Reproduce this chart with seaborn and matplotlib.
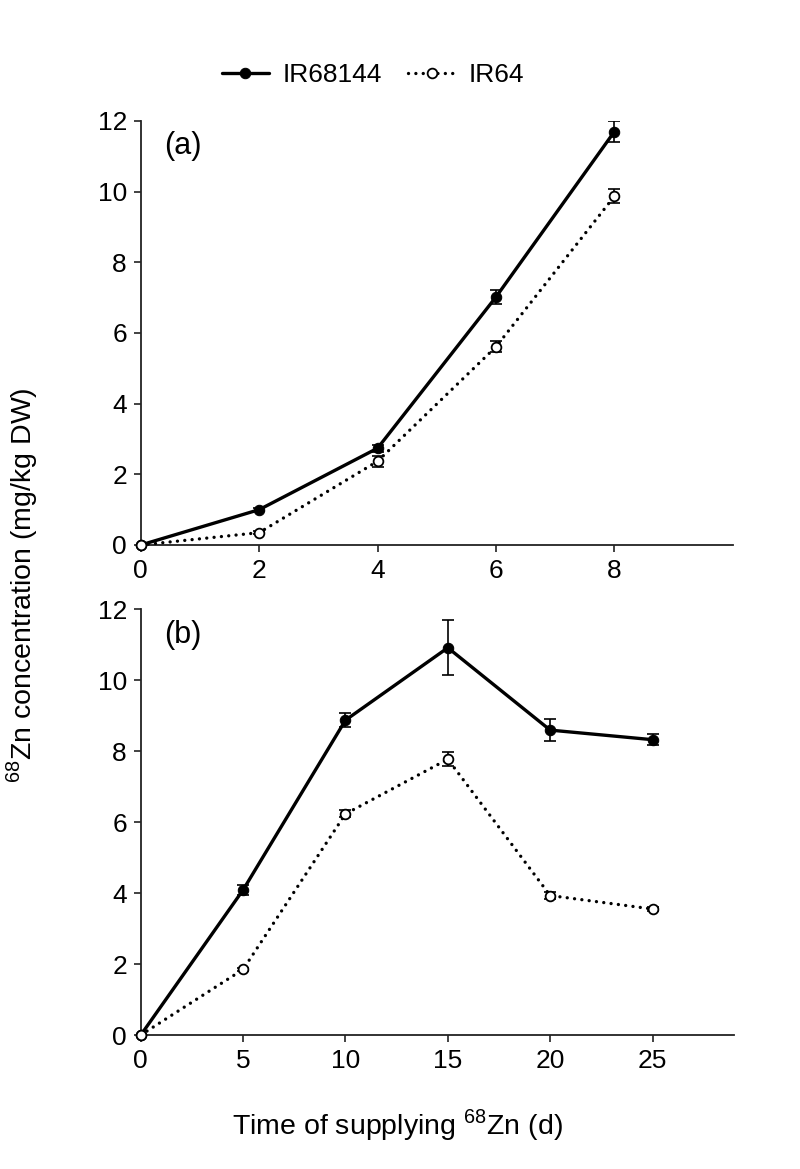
import numpy as np
import pandas as pd
import matplotlib
matplotlib.use('Agg')
import matplotlib.pyplot as plt
import seaborn as sns

# panel (a): days 0-8
days_a = [0, 2, 4, 6, 8]
ir68144_a = [0.0, 1.0, 2.74, 7.02, 11.70]
ir68144_a_err = [0.0, 0.05, 0.10, 0.21, 0.30]
ir64_a = [0.0, 0.35, 2.37, 5.61, 9.87]
ir64_a_err = [0.0, 0.05, 0.16, 0.16, 0.20]

# panel (b): days 0-25
days_b = [0, 5, 10, 15, 20, 25]
ir68144_b = [0.0, 4.09, 8.87, 10.91, 8.59, 8.32]
ir68144_b_err = [0.0, 0.15, 0.20, 0.78, 0.30, 0.15]
ir64_b = [0.0, 1.85, 6.23, 7.77, 3.93, 3.55]
ir64_b_err = [0.0, 0.05, 0.10, 0.20, 0.10, 0.05]

sns.set_style('ticks')
plt.rcParams['font.family'] = ['Liberation Sans', 'DejaVu Sans']
plt.rcParams['mathtext.fontset'] = 'custom'
plt.rcParams['mathtext.rm'] = 'Liberation Sans'
plt.rcParams['text.color'] = 'black'
plt.rcParams['xtick.color'] = 'black'
plt.rcParams['ytick.color'] = 'black'
plt.rcParams['xtick.labelcolor'] = 'black'
plt.rcParams['ytick.labelcolor'] = 'black'

DOT = (0, (0.01, 2.2))


def draw_panel(ax, days, y1, e1, y2, e2, xmax, xticks, tag):
    df = pd.DataFrame({'day': days, 'IR68144': y1, 'IR64': y2})
    ax.errorbar(days, y1, yerr=e1, fmt='none', ecolor='black',
                elinewidth=1.2, capsize=4.5, capthick=1.2, zorder=2)
    ax.errorbar(days, y2, yerr=e2, fmt='none', ecolor='black',
                elinewidth=1.2, capsize=4.5, capthick=1.2, zorder=2)
    sns.lineplot(data=df, x='day', y='IR68144', ax=ax, color='black',
                 lw=2.4, marker='o', markersize=7.5, mfc='black', mec='black',
                 label='IR68144', clip_on=False, zorder=3)
    sns.lineplot(data=df, x='day', y='IR64', ax=ax, color='black',
                 lw=2.4, linestyle=DOT, dash_capstyle='round',
                 marker='o', markersize=7, mfc='white', mec='black', mew=1.3,
                 label='IR64', clip_on=False, zorder=4)
    ax.set_xlim(0, xmax)
    ax.set_ylim(0, 12)
    ax.set_xticks(xticks)
    ax.set_yticks(range(0, 13, 2))
    ax.set_xlabel('')
    ax.set_ylabel('')
    for s in ['top', 'right']:
        ax.spines[s].set_visible(False)
    for s in ['left', 'bottom']:
        ax.spines[s].set_linewidth(1.3)
        ax.spines[s].set_color('#222222')
    ax.tick_params(direction='out', length=5, width=1.2, labelsize=19,
                   color='#222222', labelcolor='black', pad=5)
    ax.text(0.04, 0.94, tag, transform=ax.transAxes, fontsize=22,
            va='center', ha='left', color='black')
    ax.get_legend().remove()


fig = plt.figure(figsize=(8, 11.69), dpi=100)
ax_a = fig.add_axes([0.176, 0.5338, 0.740, 0.3627])
ax_b = fig.add_axes([0.176, 0.1146, 0.742, 0.3644])

draw_panel(ax_a, days_a, ir68144_a, ir68144_a_err, ir64_a, ir64_a_err,
           10, [0, 2, 4, 6, 8], '(a)')
draw_panel(ax_b, days_b, ir68144_b, ir68144_b_err, ir64_b, ir64_b_err,
           29, [0, 5, 10, 15, 20, 25], '(b)')

handles = [ax_a.lines[-2], ax_a.lines[-1]]
fig.legend(handles, ['IR68144', 'IR64'], loc='center',
           bbox_to_anchor=(373 / 800, 1 - 75 / 1169), ncol=2, frameon=False,
           fontsize=19, handlelength=1.8, handletextpad=0.5, columnspacing=1.0)

fig.text(397 / 800, 1 - 1125 / 1169, r'Time of supplying $^{68}$Zn (d)',
         ha='center', va='center', fontsize=20.5, color='black')
fig.text(22 / 800, 1 - 585 / 1169, r'$^{68}$Zn concentration (mg/kg DW)',
         ha='center', va='center', rotation=90, fontsize=20.5, color='black')

fig.savefig('out.png', dpi=100)
